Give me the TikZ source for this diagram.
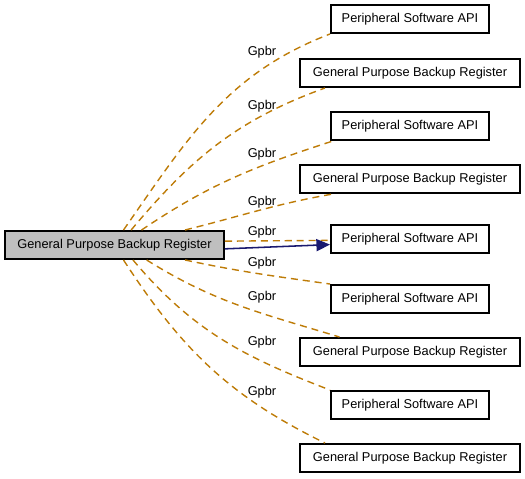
\documentclass[tikz,border=0pt]{standalone}
\usepackage{fontspec}
\setmainfont{Liberation Sans}
\usepackage{tikz}
\usetikzlibrary{arrows.meta}
\usepackage{xcolor}
\definecolor{depgold}{RGB}{190,124,8}
\definecolor{navyarrow}{RGB}{25,25,112}
\definecolor{mainfill}{RGB}{191,191,191}

\begin{document}
\begin{tikzpicture}[
    box/.style={draw, line width=1.4pt, minimum height=0.7cm, inner sep=0pt, font=\fontsize{9.1}{11}\selectfont},
    psabox/.style={box, minimum width=3.95cm},
    gpbrbox/.style={box, minimum width=5.5cm},
    dep/.style={depgold, line width=1pt, dash pattern=on 5pt off 3.5pt},
    gpbrlabel/.style={inner sep=0pt, font=\fontsize{9.1}{11}\selectfont}
]
            \useasboundingbox (0,0) rectangle (13.125,11.975);

            % Main group
            \node[box, fill=mainfill, minimum width=5.475cm] (main) at (2.8625,5.85) {General Purpose Backup Register};

            % Right column
            \node[psabox] (psa1) at (10.25,11.5) {Peripheral Software API};
            \node[gpbrbox] (gpbr1) at (10.25,10.15) {General Purpose Backup Register};
            \node[psabox] (psa2) at (10.25,8.825) {Peripheral Software API};
            \node[gpbrbox] (gpbr2) at (10.25,7.5) {General Purpose Backup Register};
            \node[psabox] (psa3) at (10.25,6.0) {Peripheral Software API};
            \node[psabox] (psa4) at (10.25,4.5) {Peripheral Software API};
            \node[gpbrbox] (gpbr3) at (10.25,3.175) {General Purpose Backup Register};
            \node[psabox] (psa5) at (10.25,1.85) {Peripheral Software API};
            \node[gpbrbox] (gpbr4) at (10.25,0.525) {General Purpose Backup Register};

            % Dashed links
            \draw[dep] (main.59) to[out=55, in=201] (psa1.south west);
            \draw[dep] (main.42) to[out=50, in=200] (gpbr1.190);
            \draw[dep] (main.29) to[out=34, in=198] (psa2.191);
            \draw[dep] (main.12) to[out=14, in=190] (gpbr2.191);
            \draw[dep] (main.2) -- (psa3.181.5);
            \draw[dep] (main.-12) to[out=-12, in=172] (psa4.north west);
            \draw[dep] (main.-25) to[out=-32, in=163] (gpbr3.168);
            \draw[dep] (main.-39) to[out=-50, in=159] (psa5.north west);
            \draw[dep] (main.-59) to[out=-57, in=154] (gpbr4.170);

            % Solid link
            \draw[navyarrow, line width=1.1pt, -{Triangle[length=0.34cm, width=0.3cm]}] (main.-2) -- (psa3.184);

            % Labels
            \node[gpbrlabel] (lab1) at (6.55,10.675) {Gpbr};
            \node[gpbrlabel] (lab2) at (6.55,9.325) {Gpbr};
            \node[gpbrlabel] (lab3) at (6.55,8.125) {Gpbr};
            \node[gpbrlabel] (lab4) at (6.55,6.925) {Gpbr};
            \node[gpbrlabel] (lab5) at (6.55,6.175) {Gpbr};
            \node[gpbrlabel] (lab6) at (6.55,5.4) {Gpbr};
            \node[gpbrlabel] (lab7) at (6.55,4.55) {Gpbr};
            \node[gpbrlabel] (lab8) at (6.55,3.425) {Gpbr};
            \node[gpbrlabel] (lab9) at (6.55,2.175) {Gpbr};

\end{tikzpicture}
\end{document}
